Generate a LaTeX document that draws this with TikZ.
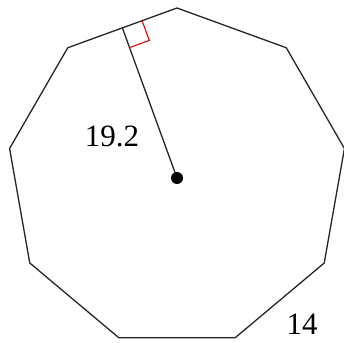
\documentclass[tikz,border=0pt]{standalone}
\usepackage{fontspec}
\setmainfont{Liberation Serif}
\usetikzlibrary{calc}
\begin{document}
\begin{tikzpicture}[x=1pt,y=-1pt,
  edge/.style={draw=black!85, line width=1.3pt, line join=miter},
  rightmark/.style={draw=red!90!black, line width=1.1pt},
  lbl/.style={font=\fontsize{31}{31}\selectfont, inner sep=0pt, text depth=0pt}]
\useasboundingbox (0,0) rectangle (344,342);
\coordinate (c) at (177,178);
\foreach \i in {0,...,8} {
  \coordinate (v\i) at ($(c)+({170*cos(90-40*\i)},{-170*sin(90-40*\i)})$);
}
\draw[edge] (v0)--(v1)--(v2)--(v3)--(v4)--(v5)--(v6)--(v7)--(v8)--cycle;
\coordinate (f) at ($(v8)!0.5!(v0)$);
\draw[edge] (c) -- (f);
\coordinate (m1) at ($(f)!21pt!(v0)$);
\coordinate (m3) at ($(f)!21pt!(c)$);
\coordinate (m2) at ($(m1)+(m3)-(f)$);
\draw[rightmark] (m1) -- (m2) -- (m3);
\fill (c) circle (6);
\node[lbl] (a) at (112,136) {19.2};
\node[lbl, anchor=base] (s) at (302,334) {14};
\end{tikzpicture}
\end{document}
